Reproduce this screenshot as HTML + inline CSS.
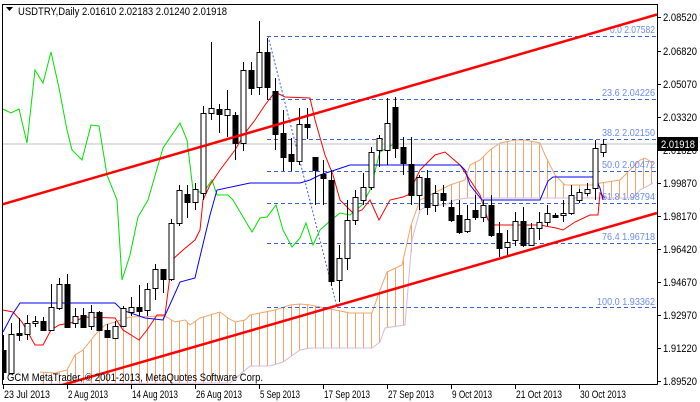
<!DOCTYPE html>
<html><head><meta charset="utf-8"><style>
html,body{margin:0;padding:0;background:#fff;}
svg{display:block;font-family:"Liberation Sans",sans-serif;}
</style></head><body>
<svg id="s" width="700" height="402" xmlns="http://www.w3.org/2000/svg">
<rect width="700" height="402" fill="#fff"/>
<g id="cloud"></g>
<line x1="3" y1="144" x2="657" y2="144" stroke="#c0c0c0" stroke-width="1"/>
<g stroke="#3a5fe0" stroke-dasharray="4,3" stroke-width="1" fill="none">
<line x1="267" y1="36.5" x2="657" y2="36.5"/>
<line x1="267" y1="99.5" x2="657" y2="99.5"/>
<line x1="267" y1="139.5" x2="657" y2="139.5"/>
<line x1="267" y1="171.5" x2="657" y2="171.5"/>
<line x1="267" y1="203.5" x2="657" y2="203.5"/>
<line x1="267" y1="243.5" x2="657" y2="243.5"/>
<line x1="267" y1="307.5" x2="657" y2="307.5"/>
<line x1="268" y1="36" x2="337" y2="307" stroke-dasharray="2,2"/>
</g>
<g fill="#6a8cf0" font-size="10.5" text-anchor="end" lengthAdjust="spacingAndGlyphs">
<text x="655" y="33" textLength="45" lengthAdjust="spacingAndGlyphs">0.0 2.07582</text>
<text x="655" y="96" textLength="53" lengthAdjust="spacingAndGlyphs">23.6 2.04226</text>
<text x="655" y="136" textLength="53" lengthAdjust="spacingAndGlyphs">38.2 2.02150</text>
<text x="655" y="168" textLength="53" lengthAdjust="spacingAndGlyphs">50.0 2.00472</text>
<text x="655" y="200" textLength="53" lengthAdjust="spacingAndGlyphs">61.8 1.98794</text>
<text x="655" y="240" textLength="53" lengthAdjust="spacingAndGlyphs">76.4 1.96718</text>
<text x="655" y="305" textLength="58" lengthAdjust="spacingAndGlyphs">100.0 1.93362</text>
</g>
<g id="lines" fill="none"></g>
<g id="candles"></g>
<line x1="0" y1="205" x2="657" y2="14.5" stroke="#f00" stroke-width="2.5"/>
<line x1="45" y1="390" x2="657" y2="213" stroke="#f00" stroke-width="2.5"/>
<rect x="0" y="0" width="700" height="4" fill="#fff"/>
<rect x="658" y="0" width="42" height="402" fill="#fff"/>
<rect x="0" y="385" width="700" height="17" fill="#fff"/>
<rect x="0" y="0" width="2.5" height="402" fill="#fff"/>
<line x1="2.5" y1="4" x2="2.5" y2="384.5" stroke="#000"/>
<line x1="2.5" y1="4.5" x2="657.5" y2="4.5" stroke="#000"/>
<line x1="657.5" y1="4" x2="657.5" y2="384.5" stroke="#000"/>
<line x1="2.5" y1="384.5" x2="657.5" y2="384.5" stroke="#000"/>
<g id="axes" font-size="11" fill="#000"></g>
<path d="M6 7 L13 7 L9.5 11 Z" fill="#000"/>
<text x="18" y="15" font-size="11" textLength="209" lengthAdjust="spacingAndGlyphs">USDTRY,Daily  2.01610 2.02183 2.01240 2.01918</text>
<text x="7" y="381" font-size="11" fill="#000" textLength="256" lengthAdjust="spacingAndGlyphs">GCM MetaTrader, © 2001-2013, MetaQuotes Software Corp.</text>
<rect x="658" y="137" width="40" height="14" fill="#000"/>
<text x="661" y="148" font-size="11" fill="#fff" textLength="34" lengthAdjust="spacingAndGlyphs">2.01918</text>
</svg>
<script>
var NS="http://www.w3.org/2000/svg";
function el(p,t,a){var e=document.createElementNS(NS,t);for(var k in a)e.setAttribute(k,a[k]);p.appendChild(e);return e;}
var C=[[350,372,335,380,0],[334,373,323,373,1],[333,335,318,341,0],[323,334,315,340,1],[321,323,316,327,1],[321,330,317,330,0],[307,330,284,330,1],[284,308,278,310,1],[284,327,274,328,0],[316,323,308,328,1],[315,327,308,328,0],[312,326,305,330,1],[312,330,311,331,0],[330,337,324,338,0],[326,338,321,338,1],[308,326,306,327,1],[307,312,297,316,1],[307,311,285,316,0],[289,310,283,316,1],[269,288,264,300,1],[269,279,269,293,0],[223,279,219,281,1],[190,223,185,226,1],[194,202,185,218,0],[189,202,183,210,1],[113,193,106,200,1],[108,113,42,120,1],[109,114,104,133,0],[109,115,90,137,1],[115,143,112,160,0],[70,143,62,151,1],[70,88,62,95,0],[52,87,21,95,1],[52,87,38,100,0],[91,134,78,150,0],[133,157,110,171,0],[154,161,138,171,0],[124,161,108,165,1],[124,127,108,139,0],[157,170,157,205,0],[174,178,160,205,0],[180,281,170,286,0],[258,280,245,302,1],[220,258,200,270,1],[197,220,190,225,1],[187,200,173,205,1],[152,187,147,190,1],[138,150,135,167,1],[123,150,98,165,1],[107,148,97,158,0],[147,163,137,175,0],[164,195,137,205,0],[177,195,175,210,1],[178,207,170,215,0],[193,205,185,212,1],[193,200,185,207,0],[207,220,200,222,0],[215,232,200,234,0],[219,231,205,233,1],[210,217,195,220,0],[205,217,200,222,1],[205,235,195,237,0],[233,248,222,257,0],[242,247,230,255,1],[221,240,212,246,1],[221,245,207,247,0],[228,245,223,246,1],[222,228,212,240,1],[213,222,205,226,1],[215,217,213,218,0],[213,215,200,222,1],[195,213,185,215,1],[192,200,189,203,1],[189,193,183,196,1],[148,188,140,200,1],[144,152,139,157,1]];
var cg=document.getElementById("candles");
C.forEach(function(c,i){var x=3+8*i+0.5;
el(cg,"line",{x1:x,y1:c[2],x2:x,y2:c[3],stroke:"#000"});
var h=Math.max(1,c[1]-c[0]);
el(cg,"rect",{x:x-2.5,y:c[0]+0.5,width:5,height:h,fill:c[4]?"#fff":"#000",stroke:"#000"});});
function pl(g,pts,col,w){el(g,"polyline",{points:pts,stroke:col,"stroke-width":w||1,fill:"none"});}
var lg=document.getElementById("lines");
pl(lg,"3,109 11,113 19,109 27,143 35,70 43,83 51,52 59,88 67,130 72,150 82,160 91,125 99,126 107,175 117,200 122,280 130,255 138,217 148,200 163,148 180,123 187,140 193,190 203,193 212,180 217,195 228,195 233,200 252,232 260,218 267,217 276,205 283,230 292,247 300,238 306,223 313,245 320,230 330,221 340,213 350,215 362,205 370,190 380,152 392,145 395,143","#00e000");
pl(lg,"3,310 13,312 22,322 35,345 43,345 51,330 59,325 75,322 83,317 115,318 123,330 131,335 139,340 147,330 157,315 165,315 172,260 183,250 195,240 200,230 203,200 210,185 220,170 235,150 245,133 255,120 265,105 275,92 285,97 310,98 315,120 325,155 333,175 340,200 353,213 362,210 370,200 379,220 390,200 403,197 408,195 420,170 435,155 445,152 460,165 470,180 480,195 488,220 495,225 540,225 556,228 563,230 575,222 590,215 598,215 600,193 605,198","#f00");
pl(lg,"3,332 12,315 20,303 115,303 122,310 145,318 163,320 172,300 180,282 195,278 198,265 210,215 217,190 250,183 300,183 310,180 320,175 350,165 460,165 465,170 470,185 482,200 540,200 548,181 553,177 595,177 600,188 603,200","#00f");
var A=[[40,372],[55,373],[67,370],[75,355],[83,350],[95,335],[105,325],[115,322],[130,317],[165,316],[175,322],[185,320],[190,325],[200,318],[210,315],[220,312],[228,318],[235,322],[245,320],[250,315],[260,313],[275,310],[290,305],[300,304],[310,305],[320,307],[350,313],[372,313],[380,290],[387,272],[402,265],[411,225],[420,200],[430,195],[440,190],[450,185],[465,180],[470,165],[480,160],[490,150],[500,143],[515,140],[525,140],[540,143],[545,155],[555,175],[565,185],[595,185],[600,183],[620,180],[630,170],[640,160],[645,158],[653,163]];
var B=[[40,384],[230,383],[250,366],[270,366],[283,362],[300,350],[310,348],[372,348],[380,342],[385,328],[405,325],[412,240],[420,210],[430,205],[445,205],[455,200],[467,198],[633,198],[640,190],[653,183]];
function interp(P,x){if(x<=P[0][0])return P[0][1];for(var i=1;i<P.length;i++){if(x<=P[i][0]){var a=P[i-1],b=P[i];return a[1]+(b[1]-a[1])*(x-a[0])/(b[0]-a[0]);}}return P[P.length-1][1];}
var cl=document.getElementById("cloud");
for(var x=43;x<=653;x+=8){var ya=interp(A,x),yb=interp(B,x);el(cl,"line",{x1:x+0.5,y1:ya,x2:x+0.5,y2:yb,stroke:ya<yb?"#f4a46a":"#d8b8d8"});}
pl(cl,A.map(function(p){return p.join(",");}).join(" "),"#f4a46a");
pl(cl,B.map(function(p){return p.join(",");}).join(" "),"#d8b8d8");
var ax=document.getElementById("axes");
var pr=[["2.08520",17],["2.06820",51],["2.05070",84],["2.03320",117],["2.01820",150],["1.99870",183],["1.98170",216],["1.96420",249],["1.94670",282],["1.92970",315],["1.91220",348],["1.89520",381]];
pr.forEach(function(p){el(ax,"line",{x1:657,y1:p[1]+0.5,x2:661,y2:p[1]+0.5,stroke:"#000"});var t=el(ax,"text",{x:663,y:p[1]+4,textLength:34,lengthAdjust:"spacingAndGlyphs"});t.textContent=p[0];});
var d=[["23 Jul 2013",3],["2 Aug 2013",67],["14 Aug 2013",131],["26 Aug 2013",195],["5 Sep 2013",259],["17 Sep 2013",323],["27 Sep 2013",387],["9 Oct 2013",451],["21 Oct 2013",515],["30 Oct 2013",579]];
d.forEach(function(p){el(ax,"line",{x1:p[1]+0.5,y1:384,x2:p[1]+0.5,y2:389,stroke:"#000"});var L=p[0].length==11?46:40;var t=el(ax,"text",{x:p[1]+1,y:398,textLength:L,lengthAdjust:"spacingAndGlyphs"});t.textContent=p[0];});
</script>
</body></html>
